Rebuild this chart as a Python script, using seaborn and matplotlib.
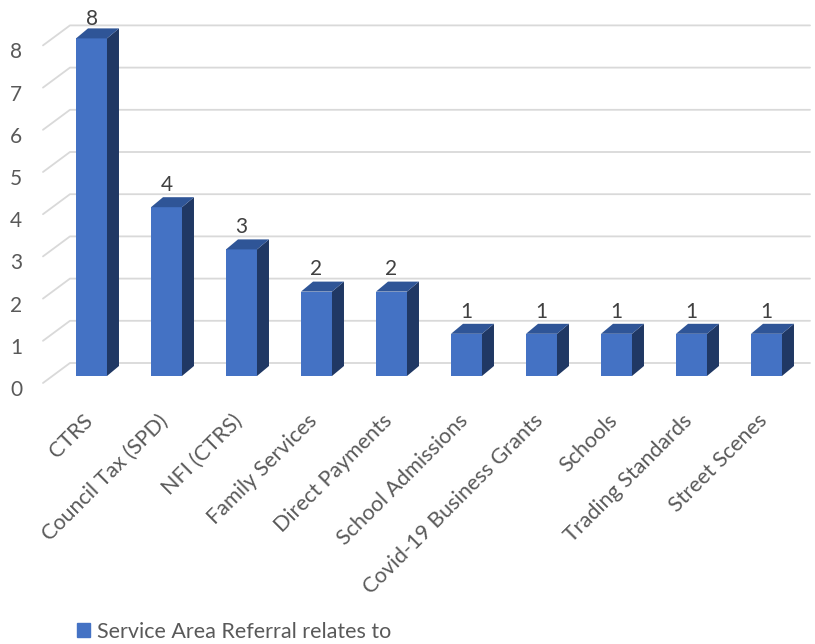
import matplotlib
matplotlib.use('Agg')
import matplotlib.pyplot as plt
from matplotlib.patches import Polygon, Patch
from matplotlib.transforms import ScaledTranslation
import seaborn as sns
import pandas as pd

# data
categories = ['CTRS', 'Council Tax (SPD)', 'NFI (CTRS)', 'Family Services', 'Direct Payments',
              'School Admissions', 'Covid-19 Business Grants', 'Schools', 'Trading Standards',
              'Street Scenes']
values = [8, 4, 3, 2, 2, 1, 1, 1, 1, 1]
series_name = 'Service Area Referral relates to'

front_col = '#4472c4'
top_col = '#2f5597'
side_col = '#203864'
grid_col = '#d9d9d9'

sns.set_style('white')
plt.rcParams['font.family'] = ['Lato', 'DejaVu Sans']

df = pd.DataFrame({'cat': categories, 'val': values})

fig = plt.figure(figsize=(8.15, 6.44), dpi=100)
ax = fig.add_axes([54/815, 268/644, 750/815, 8.6*42.2/644])

sns.barplot(data=df, x='cat', y='val', color=front_col, saturation=1, width=0.413,
            linewidth=0, ax=ax, zorder=3)
ax.set_xlim(-0.5, 9.5)
ax.set_ylim(0, 8.6)

# 3d depth in data units
dx, dy = 12/75, 10/42.2

for p in ax.patches:
    x0, w, h = p.get_x(), p.get_width(), p.get_height()
    side = Polygon([(x0+w, 0), (x0+w+dx, dy), (x0+w+dx, h+dy), (x0+w, h)],
                   closed=True, fc=side_col, ec='none', zorder=3)
    top = Polygon([(x0, h), (x0+dx, h+dy), (x0+w+dx, h+dy), (x0+w, h)],
                  closed=True, fc=top_col, ec='none', zorder=3)
    ax.add_patch(side)
    ax.add_patch(top)
    off = 14 if h >= 8 else 16  # top label squeezed a bit like Excel does
    ax.annotate(f'{int(h)}', (x0 + w/2, h), xytext=(0, off), textcoords='offset points',
                ha='center', va='center', fontsize=15, color='#404040', zorder=5)

# gridlines on back wall with floor slant
for v in range(9):
    ax.plot([-0.647, -0.287, 9.58], [v - 7/42.2, v + 13/42.2, v + 13/42.2],
            color=grid_col, lw=1.3, clip_on=False, zorder=1)

ax.set_yticks(range(9))
ax.tick_params(axis='y', length=0, pad=23, labelsize=15, labelcolor='#595959')
for lab in ax.get_yticklabels():
    lab.set_transform(lab.get_transform() + ScaledTranslation(0, -0.12, fig.dpi_scale_trans))

ax.tick_params(axis='x', length=0, pad=25, labelsize=15.5, labelcolor='#595959')
ax.set_xticks(range(len(categories)))
ax.set_xticklabels(categories, rotation=45, ha='right', rotation_mode='anchor', va='top')
for lab in ax.get_xticklabels():
    lab.set_transform(lab.get_transform() + ScaledTranslation(-0.09, 0, fig.dpi_scale_trans))

ax.set_xlabel('')
ax.set_ylabel('')
sns.despine(ax=ax, left=True, bottom=True)

fig.legend(handles=[Patch(color=front_col)], labels=[series_name], loc='center left',
           bbox_to_anchor=(77/815, 12/644), frameon=False, fontsize=15.5,
           handlelength=0.62, handleheight=0.62, handletextpad=0.3, borderpad=0, borderaxespad=0,
           labelcolor='#595959')

fig.savefig('out.png', dpi=100)
